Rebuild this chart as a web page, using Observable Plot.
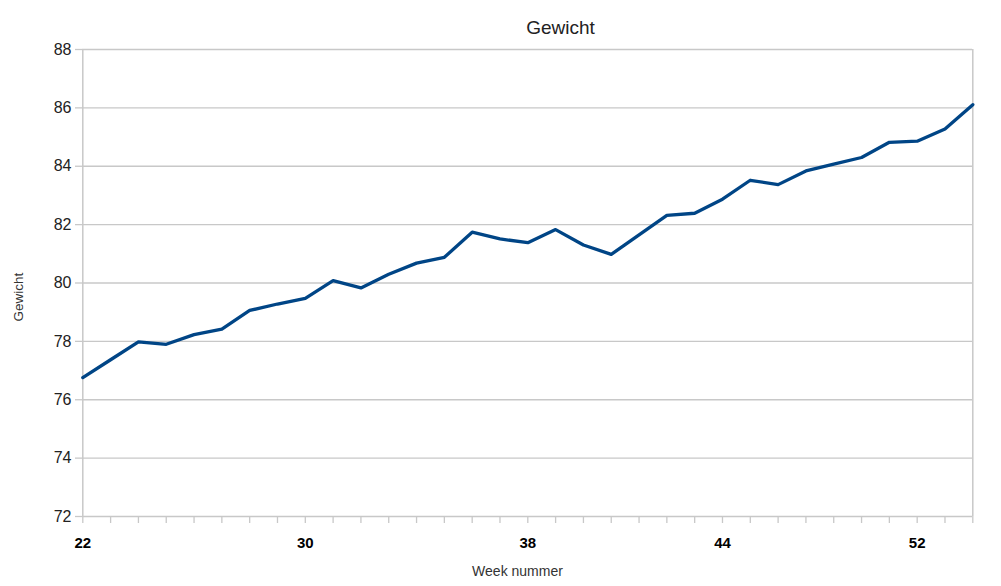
<!DOCTYPE html>
<html>
<head>
<meta charset="utf-8">
<script src="https://cdn.jsdelivr.net/npm/d3@7"></script>
<script src="https://cdn.jsdelivr.net/npm/@observablehq/plot@0.6"></script>
<style>
  html, body { margin: 0; padding: 0; background: #fff; }
  #chart { width: 1001px; height: 586px; }
</style>
</head>
<body>
<div id="chart"></div>
<script>
// Week categories (one per measurement) and the labels the axis shows
const weeks = ["22","23","24","25","26","27","28","29","30","31","32","33","34","35","36","37","38",
               "39","40","41","42","43","43","44","45","46","47","48","49","51","52","53","54"];
const shownLabels = ["22","30","38","44","52"];
// Weight per measurement (kg)
const weights = [76.76, 77.37, 77.98, 77.90, 78.23, 78.42, 79.06, 79.28, 79.47, 80.08, 79.83,
                 80.30, 80.68, 80.88, 81.74, 81.51, 81.38, 81.83, 81.30, 80.98, 81.65, 82.32,
                 82.39, 82.87, 83.52, 83.37, 83.84, 84.07, 84.30, 84.82, 84.86, 85.28, 86.11];
const yTicks = [72, 74, 76, 78, 80, 82, 84, 86, 88];
const titleText = "Gewicht";
const yLabel = "Gewicht";
const xLabel = "Week nummer";

const data = weights.map((w, i) => ({i, week: weeks[i], w}));
const idx = weeks.map((_, i) => i);
const firstIdx = shownLabels.map(l => weeks.indexOf(l));

const grid = "#c8c8c8";
const chart = Plot.plot({
  width: 1001,
  height: 586,
  marginLeft: 82,
  marginRight: 29,
  marginTop: 49,
  marginBottom: 70,
  style: {fontFamily: "'Liberation Sans', Arial, sans-serif", background: "#fff", color: "#333"},
  x: {domain: [0, weeks.length - 1], range: [82.3, 972.3]},
  y: {domain: [72, 88]},
  marks: [
    Plot.ruleY(yTicks, {y: d => d, stroke: grid, strokeWidth: 1.3}),
    Plot.ruleX([0, weeks.length - 1], {stroke: grid, strokeWidth: 1.5}),
    Plot.axisY(yTicks, {
      tickSize: 7, tickPadding: 4, stroke: grid, strokeWidth: 1.3,
      fontSize: 16, fill: "#222",
      label: null
    }),
    Plot.axisX(idx, {
      tickSize: 7, tickPadding: 14, stroke: grid, strokeWidth: 1.3,
      tickFormat: i => firstIdx.includes(i) ? weeks[i] : "",
      fontSize: 15, fontWeight: "bold", fill: "#000",
      label: null
    }),
    Plot.line(data, {x: "i", y: "w", stroke: "#004586", strokeWidth: 3.3, strokeLinejoin: "round", strokeLinecap: "round"}),
    Plot.text([titleText], {frameAnchor: "top", dx: 33, dy: -16, text: d => d, fontSize: 19, fill: "#222", lineAnchor: "bottom"}),
    Plot.text([yLabel], {frameAnchor: "left", textAnchor: "middle", dx: -64, dy: 14, rotate: -90, text: d => d, fontSize: 13.5, fill: "#333"}),
    Plot.text([xLabel], {frameAnchor: "bottom", dx: -10, dy: 59, text: d => d, fontSize: 14, fill: "#333", letterSpacing: "-0.3px"})
  ]
});
document.getElementById("chart").appendChild(chart);
</script>
</body>
</html>
